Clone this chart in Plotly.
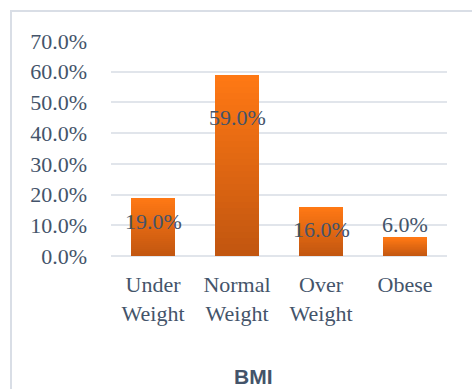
import plotly.graph_objects as go

categories = ["Under<br>Weight", "Normal<br>Weight", "Over<br>Weight", "Obese"]
values = [19.0, 59.0, 16.0, 6.0]
label_texts = ["19.0%", "59.0%", "16.0%", "6.0%"]
label_shift = [-24, -43, -23, 13]

TOP = (254, 120, 20)
BOT = (194, 86, 16)
N = 30

fig = go.Figure()
for i in range(N):
    t = i / (N - 1)  # 0 bottom, 1 top
    c = tuple(int(round(BOT[k] + (TOP[k] - BOT[k]) * t)) for k in range(3))
    fig.add_trace(go.Bar(
        x=categories, y=[v / N for v in values],
        marker=dict(color="rgb(%d,%d,%d)" % c, line=dict(width=0)),
        width=0.52, hoverinfo="skip", showlegend=False,
    ))

for cat, v, txt, s in zip(categories, values, label_texts, label_shift):
    fig.add_annotation(x=cat, y=v, text=txt, showarrow=False, yshift=s,
                       font=dict(family="Liberation Serif", size=22, color="#44546A"))

fig.add_annotation(xref="paper", yref="paper", x=(253 - 111) / 336, y=-(376 - 256) / 215,
                   text="<b>BMI</b>", showarrow=False, yanchor="middle",
                   font=dict(family="Liberation Sans", size=21, color="#44546A"))

fig.add_shape(type="rect", xref="paper", yref="paper",
              x0=(11 - 111) / 336, x1=(480 - 111) / 336,
              y0=-(400 - 256) / 215, y1=(256 - 11) / 215,
              line=dict(color="#D9DEE6", width=2), layer="below")

fig.update_layout(
    barmode="stack", bargap=0,
    width=472, height=389,
    margin=dict(l=111, r=25, t=41, b=133),
    plot_bgcolor="white", paper_bgcolor="white",
    font=dict(family="Liberation Serif", size=20, color="#44546A"),
)
fig.update_yaxes(range=[0, 70], dtick=10, tickformat=".1f", ticksuffix="%",
                 showgrid=True, gridcolor="#E1E5EB", gridwidth=1.5,
                 zeroline=True, zerolinecolor="#E1E5EB", zerolinewidth=1.5,
                 showline=False, ticklabelstandoff=23,
                 tickfont=dict(family="Liberation Serif", size=22, color="#44546A"))
fig.update_xaxes(showline=False, showgrid=False, ticklabelstandoff=13,
                 tickfont=dict(family="Liberation Serif", size=22, color="#44546A"))

fig.write_html("out.html")
